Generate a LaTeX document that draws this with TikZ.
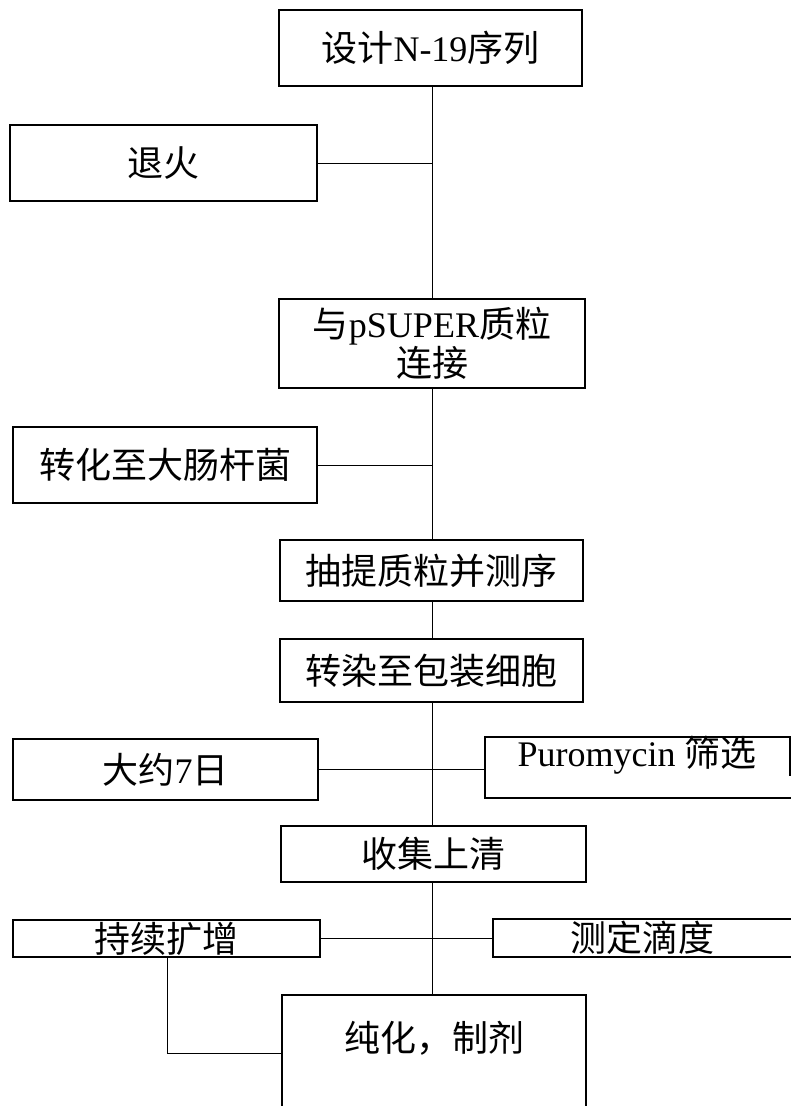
\documentclass[tikz,border=0pt]{standalone}
\usepackage{fontspec}
\setmainfont{Liberation Serif}
\newfontfamily\cjk{Noto Sans CJK SC}
\begin{document}
\begin{tikzpicture}[x=1pt,y=-1pt,
  boxline/.style={line width=1.6pt},
  box/.style={draw,boxline,inner sep=0pt,align=center,font=\fontsize{36}{37}\selectfont},
  ghost/.style={inner sep=0pt,align=center,font=\fontsize{36}{37}\selectfont},
  txt/.style={inner sep=0pt,align=center,font=\fontsize{36}{37}\selectfont},
  conn/.style={line width=0.9pt}]
\useasboundingbox (0,0) rectangle (791,1106);
\fill[white] (0,0) rectangle (791,1106);
\coordinate (sp) at (432,0);
% boxes
\node[box,minimum width=303pt,minimum height=76pt] (b1) at (430.5,48) {{\cjk 设计}N-19{\cjk 序列}};
\node[box,minimum width=307pt,minimum height=76pt] (b2) at (163.5,163) {\cjk 退火};
\node[box,minimum width=306pt,minimum height=89pt] (b3) at (432,343.5) {{\cjk 与}pSUPER{\cjk 质粒}\\{\cjk 连接}};
\node[box,minimum width=304pt,minimum height=76pt] (b4) at (165,465) {\cjk 转化至大肠杆菌};
\node[box,minimum width=303pt,minimum height=61pt] (b5) at (431.5,570.5) {\cjk 抽提质粒并测序};
\node[box,minimum width=303pt,minimum height=63pt] (b6) at (431.5,670.5) {\cjk 转染至包装细胞};
\node[box,minimum width=305pt,minimum height=61pt] (b7) at (165.5,769.5) {{\cjk 大约}7{\cjk 日}};
\node[ghost,minimum width=305pt,minimum height=61pt] (b8) at (637.5,767.5) {};
\node[txt] (t8) at (637,755) {Puromycin {\cjk 筛选}};
\draw[boxline] ([yshift=-8pt]b8.east) -- (b8.north east) -- (b8.north west) -- (b8.south west) -- ([xshift=2pt]b8.south east);
\node[box,minimum width=305pt,minimum height=56pt] (b9) at (433.5,854) {\cjk 收集上清};
\node[box,minimum width=307pt,minimum height=37pt] (b10) at (166.5,938.5) {\cjk 持续扩增};
\node[box,minimum width=299pt,minimum height=38pt] (b11) at (642.5,938) {\cjk 测定滴度};
\node[ghost,minimum width=304pt,minimum height=125pt] (b12) at (434,1057.5) {};
\node[txt] (t12) at (434,1038) {\cjk 纯化，制剂};
\draw[boxline] (b12.south west) -- (b12.north west) -- (b12.north east) -- (b12.south east);
% spine
\draw[conn] (b1.south -| sp) -- (b3.north -| sp);
\draw[conn] (b3.south -| sp) -- (b5.north -| sp);
\draw[conn] (b5.south -| sp) -- (b6.north -| sp);
\draw[conn] (b6.south -| sp) -- (b9.north -| sp);
\draw[conn] (b9.south -| sp) -- (b12.north -| sp);
% side connectors
\draw[conn] (b2.east) -- (b2.east -| sp);
\draw[conn] (b4.east) -- (b4.east -| sp);
\draw[conn] (b7.east) -- (b7.east -| b8.west);
\draw[conn] (b10.east) -- (b10.east -| b11.west);
\coordinate (lc) at (167,1053);
\draw[conn] (b10.south -| lc) -- (lc) -- (lc -| b12.west);
\end{tikzpicture}
\end{document}
